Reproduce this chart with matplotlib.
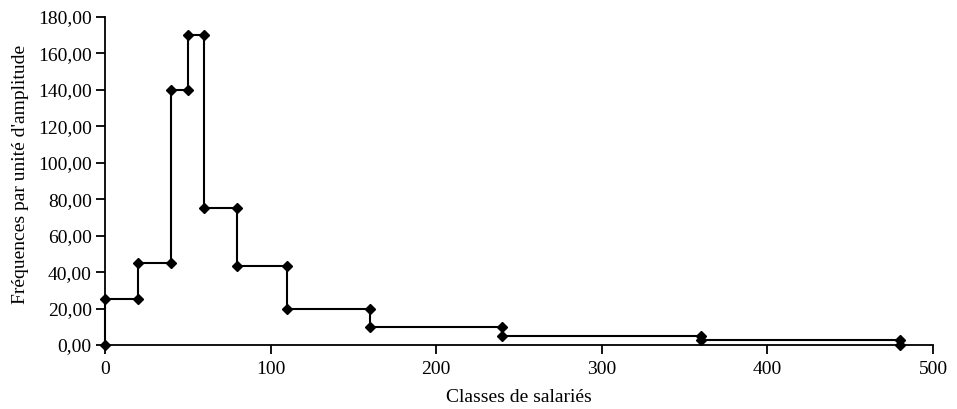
import matplotlib
matplotlib.use('Agg')
import matplotlib.pyplot as plt
from matplotlib.ticker import FuncFormatter

# Class bounds and density (frequency per unit of amplitude), drawn as steps
x_vals = [0, 0, 20, 20, 40, 40, 50, 50, 60, 60, 80, 80, 110, 110,
          160, 160, 240, 240, 360, 360, 480, 480]
y_vals = [0, 25, 25, 45, 45, 140, 140, 170, 170, 75, 75, 43.33, 43.33, 20,
          20, 10, 10, 5, 5, 2.5, 2.5, 0]

x_ticks = [0, 100, 200, 300, 400, 500]
y_ticks = [0, 20, 40, 60, 80, 100, 120, 140, 160, 180]

plt.rcParams['font.family'] = ['Liberation Serif', 'DejaVu Serif']

fig = plt.figure(figsize=(9.57, 4.09), dpi=100)
ax = fig.add_axes([105/957, 64/409, 828/957, 328/409])

ax.plot(x_vals, y_vals, color='black', linewidth=1.5, marker='D',
        markersize=5.5, clip_on=False, zorder=3)

ax.set_xlim(0, 500)
ax.set_ylim(0, 180)
ax.set_xticks(x_ticks)
ax.set_yticks(y_ticks)
ax.yaxis.set_major_formatter(FuncFormatter(lambda v, p: '{:.2f}'.format(v).replace('.', ',')))

for s in ['top', 'right']:
    ax.spines[s].set_visible(False)
for s in ['left', 'bottom']:
    ax.spines[s].set_linewidth(1.3)
ax.tick_params(direction='out', length=6.5, width=1.3, labelsize=14)
ax.tick_params(axis='x', pad=5)
ax.tick_params(axis='y', pad=3)

ax.set_xlabel('Classes de salariés', fontsize=14)
ax.set_ylabel("Fréquences par unité d'amplitude", fontsize=14)
ax.xaxis.set_label_coords(0.5, -0.135)
ax.yaxis.set_label_coords(-0.092, 0.52)

fig.savefig('out.png', dpi=100)
